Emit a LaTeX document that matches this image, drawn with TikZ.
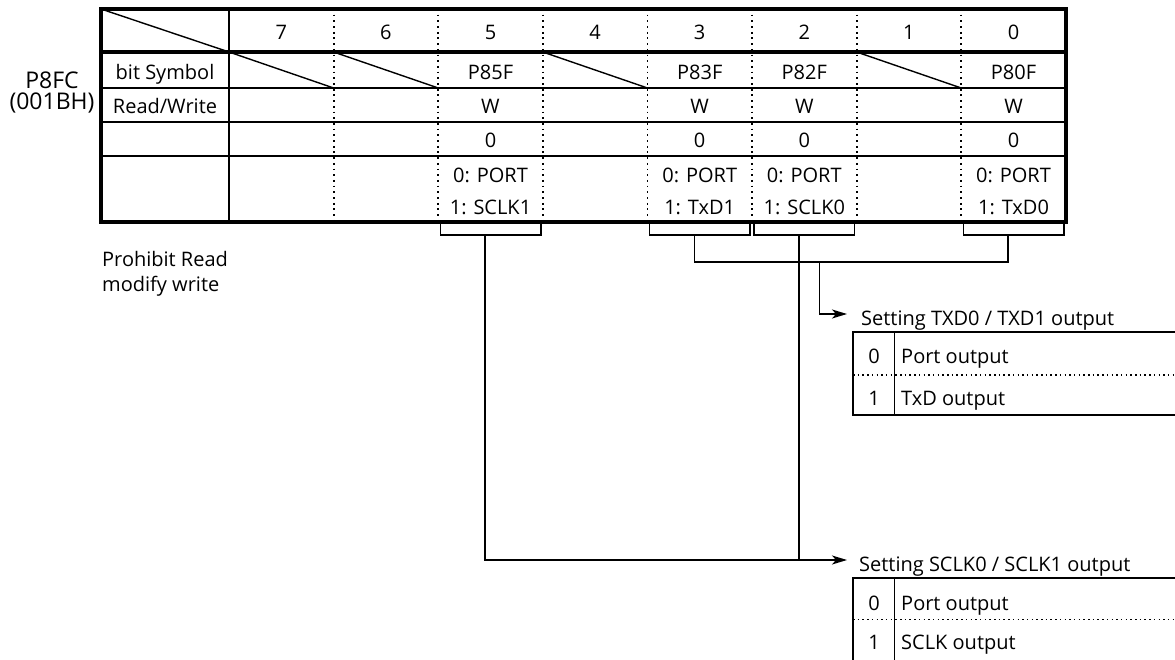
\documentclass[tikz,border=0pt]{standalone}
\usepackage{fontspec}
\setmainfont{Open Sans}
\usepackage{tikz}
\usetikzlibrary{arrows.meta, positioning, calc}
\tikzstyle{regframe} = [line width=3.3pt]
\tikzstyle{thinrule} = [line width=1.4pt]
\tikzstyle{bitsep} = [line width=1.8pt, dash pattern=on 1.8pt off 3.9pt]
\tikzstyle{dotrule} = [line width=1.5pt, dash pattern=on 1.5pt off 3.2pt]
\tikzstyle{cell} = [inner sep=0pt, anchor=base, font=\fontsize{20}{25}\selectfont]
\tikzstyle{reglabel} = [cell, font=\fontsize{23}{21}\selectfont]
\tikzstyle{arrow} = [line width=1.4pt, -{Stealth[length=15pt, width=9pt, inset=4pt]}]

\begin{document}
\begin{tikzpicture}[x=1pt, y=-1pt]
  \useasboundingbox (0,0) rectangle (1175,660);

  \foreach \i in {1,...,7} \draw[bitsep] ({229+\i*104.6},9) -- ({229+\i*104.6},222);
  \foreach \y in {88,122,156} \draw[thinrule] (101,\y) -- (1066,\y);
  \draw[thinrule] (229,9) -- (229,222);
  \draw[thinrule] (101,9) -- (229,52);
  \foreach \b in {7,6,4,1} \draw[thinrule] ({229+(7-\b)*104.6},52) -- ({229+(8-\b)*104.6},88);
  \draw[regframe] (101,9) rectangle (1066,222);
  \draw[regframe] (101,52) -- (1066,52);

  \node[reglabel] (regname) at (52,89) {P8FC};
  \node[reglabel] (regaddr) at (52,110) {(001BH)};
  \node[cell] (symlbl) at (165,80) {bit Symbol};
  \node[cell] (rwlbl) at (165,114) {Read/Write};

  \foreach \b in {7,6,...,0} \node[cell] (hd\b) at ({229+(7.5-\b)*104.6},40) {\b};
  \foreach \b/\s/\f in {5/P85F/SCLK1, 3/P83F/TxD1, 2/P82F/SCLK0, 0/P80F/TxD0} {
    \pgfmathsetmacro\cx{229+(7.5-\b)*104.6}
    \node[cell] (sym\b) at (\cx,80) {\s};
    \node[cell] (rw\b) at (\cx,114) {W};
    \node[cell] (rst\b) at (\cx,148) {0};
    \node[cell] (prt\b) at (\cx,183) {0: PORT};
    \node[cell] (fn\b) at (\cx,215) {1: \f};
    \draw[thinrule] ({\cx-50.3},222) |- ({\cx+50.3},235) -- ({\cx+50.3},222);
    \coordinate (st\b) at ({\cx-5.5},235);
  }

  \node[cell, anchor=base west] (prh1) at (102,267) {Prohibit Read};
  \node[cell, anchor=base west] (prh2) at (102,292) {modify write};

  \node[cell, anchor=base west] (txdtitle) at (861,325) {Setting TXD0 / TXD1 output};
  \coordinate (txbus) at (819.5,262);
  \coordinate (txdtip) at ([xshift=-14pt, yshift=11pt]txdtitle.base west);
  \draw[thinrule] (st3) |- (st0 |- txbus) -- (st0);
  \draw[arrow] (txbus) |- (txdtip);
  \draw[thinrule] (1175,332) -| (853,415) -- (1175,415);
  \draw[thinrule] (894.5,332) -- (894.5,415);
  \draw[dotrule] (853,375) -- (1175,375);
  \node[cell] (tx0) at (874,363) {0};
  \node[cell, anchor=base west] (tx0t) at (901,363) {Port output};
  \node[cell] (tx1) at (874,405) {1};
  \node[cell, anchor=base west] (tx1t) at (901,405) {TxD output};

  \node[cell, anchor=base west] (sclktitle) at (859,571) {Setting SCLK0 / SCLK1 output};
  \coordinate (sclktip) at ([xshift=-12pt, yshift=11pt]sclktitle.base west);
  \draw[arrow] (st5) |- (sclktip);
  \draw[thinrule] (st2) -- (st2 |- sclktip);
  \draw[thinrule] (853,660) |- (1175,578);
  \draw[thinrule] (894.5,578) -- (894.5,660);
  \draw[dotrule] (853,619.5) -- (1175,619.5);
  \node[cell] (sc0) at (874,610) {0};
  \node[cell, anchor=base west] (sc0t) at (901,610) {Port output};
  \node[cell] (sc1) at (874,649) {1};
  \node[cell, anchor=base west] (sc1t) at (901,649) {SCLK output};
\end{tikzpicture}
\end{document}
